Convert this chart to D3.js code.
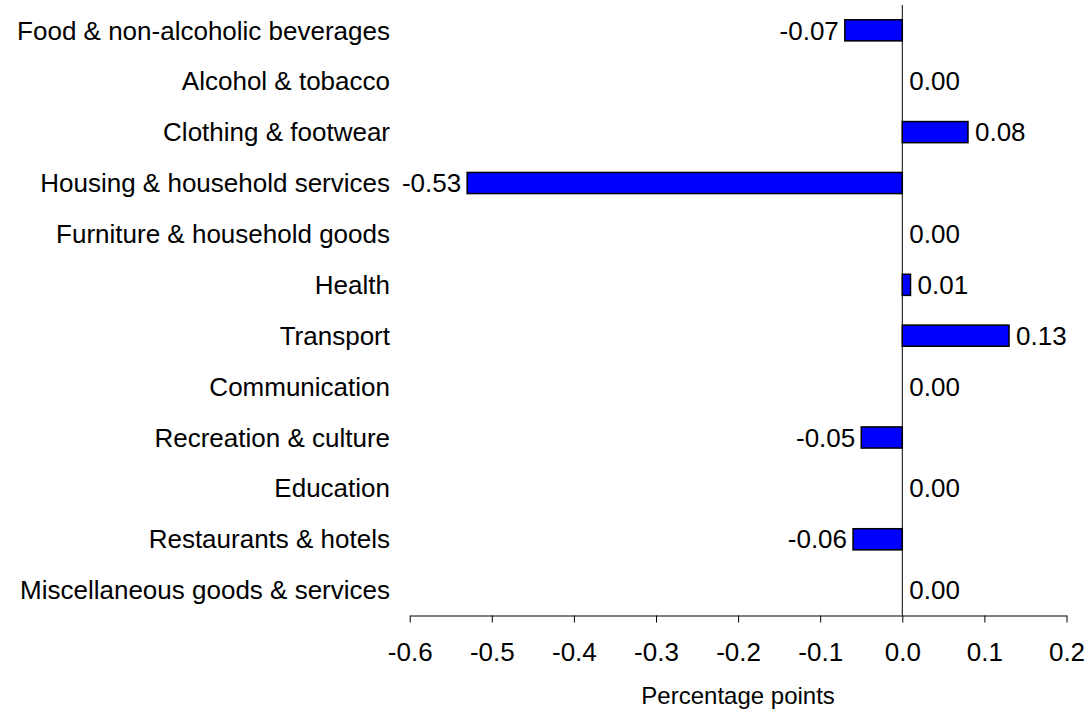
<!DOCTYPE html>
<html><head><meta charset="utf-8">
<script src="https://cdn.jsdelivr.net/npm/d3@7"></script>
<style>body{margin:0;background:#fff}svg{display:block}text{font-family:"Liberation Sans",Arial,sans-serif;fill:#000}</style>
</head><body>
<svg id="c" width="1088" height="712"></svg>
<script>
const categories = ["Food & non-alcoholic beverages","Alcohol & tobacco","Clothing & footwear","Housing & household services","Furniture & household goods","Health","Transport","Communication","Recreation & culture","Education","Restaurants & hotels","Miscellaneous goods & services"];
const values = [-0.07, 0.00, 0.08, -0.53, 0.00, 0.01, 0.13, 0.00, -0.05, 0.00, -0.06, 0.00];
const valueLabels = ["-0.07","0.00","0.08","-0.53","0.00","0.01","0.13","0.00","-0.05","0.00","-0.06","0.00"];
const xTicks = [-0.6,-0.5,-0.4,-0.3,-0.2,-0.1,0.0,0.1,0.2];
const xTickLabels = ["-0.6","-0.5","-0.4","-0.3","-0.2","-0.1","0.0","0.1","0.2"];
const xTitle = "Percentage points";

const svg = d3.select("#c");
const x = d3.scaleLinear().domain([-0.6, 0.2]).range([409.7, 1066.5]);
const y = d3.scaleBand().domain(categories).range([5, 615.5]).paddingInner(0.585).paddingOuter(0.29);
const band = d3.scaleBand().domain(categories).range([5, 615.5]);
const fs = 26;

// bars
svg.append("g").selectAll("rect").data(categories).join("rect")
  .attr("x", (d,i) => x(Math.min(0, values[i])))
  .attr("y", d => y(d))
  .attr("width", (d,i) => Math.abs(x(values[i]) - x(0)))
  .attr("height", y.bandwidth())
  .attr("fill", "#0000ff")
  .attr("stroke", "#000")
  .attr("stroke-width", 1.5);

// zero line
svg.append("line").attr("x1", x(0)).attr("x2", x(0)).attr("y1", 5).attr("y2", 615.5)
  .attr("stroke", "#000").attr("stroke-width", 1);

// x axis
const ax = svg.append("g").attr("transform", "translate(0,615.5)")
  .call(d3.axisBottom(x).tickValues(xTicks).tickFormat((d,i) => xTickLabels[i]).tickSizeOuter(0).tickSizeInner(7).tickPadding(20));
ax.select(".domain").attr("stroke", "#000");
ax.selectAll(".tick line").attr("stroke", "#000");
ax.selectAll("text").attr("font-size", fs).attr("font-family", '"Liberation Sans",Arial,sans-serif').attr("fill","#000");

// category labels
svg.append("g").selectAll("text").data(categories).join("text")
  .attr("x", 390)
  .attr("y", d => band(d) + band.bandwidth()/2)
  .attr("dy", "0.35em")
  .attr("text-anchor", "end")
  .attr("font-size", fs)
  .text(d => d);

// value labels
svg.append("g").selectAll("text").data(categories).join("text")
  .attr("x", (d,i) => values[i] < 0 ? x(values[i]) - 6 : x(values[i]) + 7)
  .attr("y", d => band(d) + band.bandwidth()/2)
  .attr("dy", "0.35em")
  .attr("text-anchor", (d,i) => values[i] < 0 ? "end" : "start")
  .attr("font-size", fs)
  .text((d,i) => valueLabels[i]);

// axis title
svg.append("text").attr("x", (x.range()[0] + x.range()[1]) / 2).attr("y", 704)
  .attr("text-anchor", "middle").attr("font-size", 24).text(xTitle);
</script>
</body></html>
